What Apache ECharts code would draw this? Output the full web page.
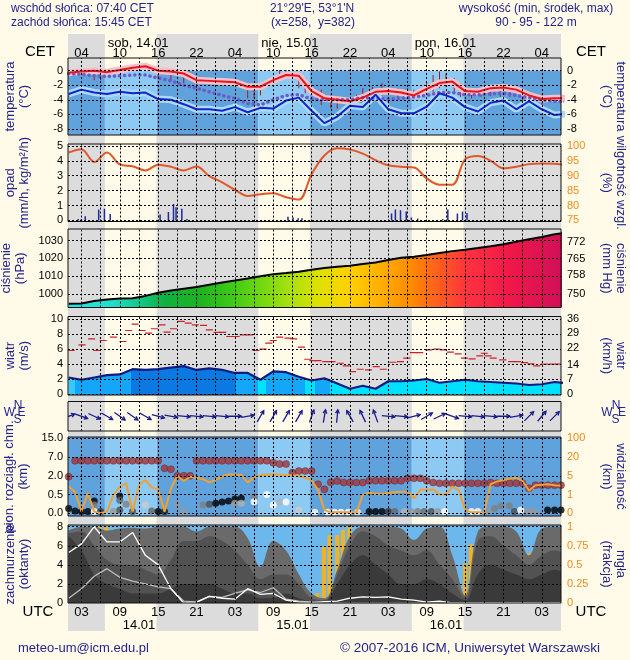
<!DOCTYPE html>
<html><head><meta charset="utf-8">
<script src="https://cdn.jsdelivr.net/npm/echarts@6/dist/echarts.min.js"></script>
<style>html,body{margin:0;padding:0;background:#fffbe8;}#c{width:630px;height:660px;}</style>
</head><body><div id="c"></div>
<script>
// ---------------- DATA ----------------
const SUNRISE_CET = '07:40', SUNSET_CET = '15:45', UTC_OFFSET = 1;
const X_MIN = 0.9, X_MAX = 78;            // hours since 14.01 00 UTC
const hourTicks = [3,9,15,21,27,33,39,45,51,57,63,69,75];
const topDates = ['sob, 14.01','nie, 15.01','pon, 16.01'];
const bottomDates = ['14.01','15.01','16.01'];
const bottomDateTicks = [9,33,57];

const times = [1,3,5,7,9,11,13,15,17,19,21,23,25,27,29,31,33,35,37,39,41,43,45,47,49,51,53,55,57,59,61,63,65,67,69,71,73,75,77,79];
const temp = [-0.3,-0.1,0.0,-0.2,0.1,0.4,0.6,0.0,-0.1,-0.4,-1.3,-1.4,-1.5,-1.6,-2.2,-2.2,-1.3,-0.6,-0.7,-2.8,-3.8,-4.0,-4.2,-3.7,-2.9,-2.8,-3.0,-3.4,-2.5,-1.7,-1.5,-2.8,-2.9,-2.4,-2.3,-2.6,-3.4,-3.9,-3.8,-3.8];
const tempBlue = [-3.2,-2.6,-3.0,-3.2,-2.9,-3.1,-3.0,-3.9,-4.0,-4.6,-5.3,-5.3,-5.5,-5.0,-5.7,-5.1,-5.2,-4.1,-3.7,-5.5,-7.2,-6.3,-4.8,-5.0,-3.3,-5.3,-5.85,-5.85,-4.95,-3.1,-3.7,-5.0,-5.6,-4.4,-4.1,-5.3,-4.2,-5.3,-6.1,-5.9];
const tempDotted = [-0.4,-0.5,-0.7,-0.8,-0.7,-0.6,-0.6,-1.0,-1.4,-2.0,-2.4,-2.9,-3.4,-3.8,-4.5,-4.7,-4.0,-3.4,-3.3,-3.9,-4.0,-4.0,-4.0,-3.7,-3.8,-3.9,-3.8,-3.6,-3.4,-3.0,-3.0,-3.3,-3.3,-3.2,-3.1,-3.4,-3.7,-4.0,-4.2,-4.3];
const whiskT  = [2,5,6,15,17,19,21,29,30,31,34,35,37,38,40.5,42,43,44.5,46,47,48.5,50,52.5,54,55,57,58,59,60,61.3,62.3,64,65.5,67,68.5,70,72,73.5,75];
const whiskLo = [-0.7,-1.3,-1.3,-0.9,-1.3,-1.7,-2.4,-3.8,-3.8,-3.4,-1.0,-0.7,-2.4,-3.1,-4.7,-5.2,-5.2,-5.4,-4.7,-4.3,-3.3,-2.9,-3.8,-3.8,-3.8,-3.3,-2.9,-2.4,-2.2,-2.9,-3.6,-3.8,-3.6,-3.5,-3.6,-3.6,-4.3,-4.7,-4.7];
const whiskHi = [-0.1,-0.4,-0.1,0.0,-0.2,-0.4,-1.0,-2.0,-2.0,-2.0,0.1,0.1,-0.6,-1.0,-2.6,-3.3,-3.6,-3.8,-3.3,-2.4,-2.2,-1.7,-2.4,-2.4,-2.6,-1.7,-0.6,-0.1,-0.4,-1.0,-1.7,-2.4,-2.4,-2.2,-2.2,-2.2,-3.0,-3.3,-3.3];

const precT = [2.5,3,3.6,5.7,6.6,7.5,15.3,16.6,17.4,17.8,18.7,19.5,35.3,36.1,36.9,37.5,51.5,52.1,52.9,53.8,54.6,55.6,59.5,60.3,61.8,62.6,63.3];
const precV = [0.1,0.1,0.29,0.73,0.78,0.44,0.4,0.56,1.11,0.89,0.78,0.1,0.25,0.2,0.15,0.15,0.47,0.73,0.69,0.6,0.2,0.13,0.1,0.73,0.47,0.6,0.5];
const humidity = [97.8,98.9,94.6,97.8,93.8,93.2,91.8,93.7,93.0,91.8,93.1,89.9,87.8,85.3,83.2,83.8,84.1,82.8,82.0,90.5,96.8,99.2,98.8,97.4,95.2,93.5,93.0,92.8,89.1,87.0,87.0,95.5,96.6,95.0,92.5,93.0,93.9,94.1,94.0,93.6];

const pressure = [994.6,994.7,996.2,997.0,997.5,997.7,999.0,1000.8,1002.0,1003.0,1004.0,1005.3,1006.5,1007.6,1008.8,1010.0,1011.2,1011.8,1012.6,1013.7,1014.6,1015.3,1015.9,1016.9,1017.7,1019.1,1020.4,1021.0,1021.9,1023.0,1024.1,1024.9,1025.8,1026.8,1027.9,1029.3,1030.7,1032.0,1033.6,1034.5];

const wind = [2.2,1.9,2.2,2.5,2.6,3.3,3.2,3.3,3.5,3.7,3.2,3.4,3.2,2.8,2.8,1.9,3.0,2.9,2.3,1.8,2.1,1.4,0.7,1.1,0.7,1.7,1.7,1.8,2.0,1.5,1.7,1.9,1.7,1.6,1.5,1.4,1.2,1.3,1.6,1.4];
const gustT = [1.4,3.1,4.6,5.4,6.4,8.0,9.5,10.4,11.4,12.5,13.5,14.4,15.6,16.4,17.4,18.6,19.7,20.8,22.1,23.0,24.2,25.1,26.2,27.2,28.3,29.3,30.3,31.4,32.3,33.0,34.0,35.3,36.2,37.4,38.4,39.2,40.0,41.2,42.2,43.5,44.4,45.4,46.6,47.9,49.1,50.2,51.7,52.9,53.9,54.9,55.9,57.3,58.6,59.6,60.7,61.9,62.9,64.1,65.3,66.0,66.6,67.4,68.9,70.3,71.2,72.3,73.3,74.2,75.4,76.6,77.6];
const gustV = [5.78,6.53,7.33,5.78,7.11,7.56,6.98,8.44,9.29,8.44,8.09,8.67,9.2,8.22,8.67,9.64,9.42,9.2,9.11,8.53,8.18,8.18,7.64,7.64,7.87,7.87,5.78,5.96,6.76,7.11,7.56,7.42,7.33,6.22,4.62,4.44,4.44,4.31,4.31,4.09,3.73,2.98,3.29,3.2,3.64,3.29,4.22,4.31,4.76,5.51,5.51,5.87,5.96,5.87,5.56,5.33,4.76,4.67,5.07,5.42,5.07,4.76,4.53,4.31,4.31,4.18,4.0,3.73,3.96,3.96,3.96];
const windTo = [70,110,115,120,125,125,120,105,100,95,95,95,95,90,80,30,30,30,30,20,10,5,330,335,340,95,95,75,60,65,110,95,95,95,90,80,45,40,45,40];

const visibility = [2.7,1.6,0.09,1.3,0.09,0.0,0.09,0.98,2.7,3.4,0.09,3.0,4.1,2.5,2.1,0.09,2.3,5.0,3.9,4.8,4.6,4.3,3.6,4.2,4.8,6.2,5.9,5.6,3.6,4.6,5.6,5.9,6.2,5.9,5.6,5.4,5.0,4.6,4.0,2.0,0.18,0.05,0.05,0.05,0.05,0.05,0.98,1.4,1.2,1.1,1.3,1.5,1.6,1.6,0.8,2.0,2.0,2.1,1.0,1.0,2.7,2.0,0.18,0.05,0.05,0.05,3.2,3.8,4.1,4.4,4.6,3.9,1.8,3.0,3.1,3.2,3.0,2.9];
const cloudTop = [1.93,6,6,6,6,6,6,6,6,6,6,6,6,6,6,4.0,3.75,2,2,2,6,6,6,6,6,6,6,6,6,6,6,6,5.5,5.15,5.15,2.85,3.25,3.25,3.25,1.33,0.92,1.48,1.58,1.46,1.46,1.46,1.46,1.6,1.6,1.6,1.6,1.6,1.6,1.8,1.8,1.8,1.6,1.46,1.4,1.4,1.4,1.4,1.4,1.4,1.4,1.4,1.46,1.4,1.4,1.4,1.4,1.4,1.0,1.25,1.25,1.25,1.25,1.25];
const cbT = [1,2,3,4,5,5,5,6,8,9,9,9,10,11,13,14,15,16,18,19,22,23,24,25,26,27,28,27,28,30,30,32,33,34,35,37,39.5,41.5,42.6,43.6,44.7,46.2,48,49,50,51,52,53.5,54.6,55.6,56.6,57.7,58.7,59.8,64,65,66.5,67.6,68.6,69.9,70.7,71.7,72.8,73.8,75.9,77,78];
const cbV = [0.13,0.06,0.05,0.05,0.33,0.22,0.05,0.05,0.05,0.46,0.35,0.09,0.24,0.05,0.22,0.06,0.05,0.05,0.22,0.03,0.22,0.24,0.27,0.3,0.33,0.38,0.4,0.27,0.27,0.44,0.31,0.51,0.22,0.3,0.3,0.09,0.03,0.03,0.03,0.03,0.03,0.03,0.05,0.05,0.05,0.05,0.05,0.05,0.05,0.05,0.05,0.05,0.05,0.05,0.05,0.05,0.05,0.13,0.2,0.2,0.05,0.09,0.05,0.05,0.09,0.09,0.09];
const cbShade = [0,0,0,0,0,0.5,1,0.2,0.6,0,0.4,0.3,0.5,0.3,0.8,0.4,0,0.1,0.6,0.6,0.5,0.3,0,0,0,0,0,0.6,0.7,0.5,1,1,1,0.7,1,0.8,1,1,1,1,1,0.9,0,0,0,0.2,0.4,0.7,0.6,0.5,0.4,0.3,0.6,1,1,1,0.6,0.5,0.5,0.5,0.3,1,0.6,0.6,0,0,0];

const cloudAll = [7.6,8.0,8.0,7.6,7.8,7.9,7.8,8.0,8.0,8.0,7.5,8.0,8.0,8.0,6.8,3.8,6.5,5.5,3.0,1.0,0.5,3.5,7.0,8.0,8.0,8.0,7.8,6.6,7.8,8.0,5.0,0.8,7.5,8.0,8.0,7.5,5.0,7.8,8.0,8.0];
const cloudMid = [7.3,7.5,6,4.5,4,4,3.5,3,4.5,6.5,6.5,7,6.5,5.5,4,2.5,3,3,2,0.5,0.3,3,6,7.5,7,6,5.5,5,5.5,4,2.5,0.5,6.5,7,6,5,4,5,5.5,5];
const cloudLow = [7,5.5,3,2,1.5,1,1,1,1.5,2,2,2,1.5,1,1,0.5,0.5,1,0.5,0.2,0.2,2,4,5,4,3,2,2,2.5,2,1,0.3,3,4,3.5,3,2.5,3,3.5,3];
const whiteLine1 = [5.3,6.2,8.0,6.4,6.4,7.4,5.0,4.0,1.5,0.0,0.1,0.7,0.5,0.4,1.5,0.9,1.0,0.3,0.1,0.05,0.15,0.2,0.5,0.65,0.6,0.65,0.4,0.3,0.1,0.2,0,0,0,0,0,0,0,0,0,0];
const whiteLine2 = [0.5,1.5,2.8,3.6,2.7,2.3,2.0,1.7,1.5,0.2,0.1,0.7,0.6,1.0,1.4,1.1,1.6,0.4,0.2,0.1,0,0,0,0,0,0,0,0,0,0,0,0,0,0,0,0,0,0,0,0];
const fogT = [2,3,4,5.9,6.9,7.9,11,12,15,16,16.9,39.9,40.9,41.8,43,43.9,44.9,46,47,48,48.9,50.1,53.9,55,63,63.9,65,66,67,68,72,73];
const fogV = [0.65,0.76,0.51,1.0,1.0,0.15,0.76,0.15,0.38,0.51,1.0,0.13,0.74,0.89,0.89,0.96,1.0,0.89,0.76,0.65,0.39,0.14,0.14,0.26,0.52,0.77,0.77,0.89,0.52,0.26,0.26,0.65];

const leftKm = [0,0.5,2,7,15], rightKm = [0,1,5,20,100];

// ---------------- HELPERS ----------------
const FONT = "'Liberation Sans', Arial, sans-serif";
const NAVY = '#24248c';
const pad = n => String(n).padStart(2,'0');
const pair = (xs, ys) => xs.map((x,i)=>[x, ys[i]]);
function hm(s){const [h,m]=s.split(':').map(Number);return h+m/60;}
const rise = hm(SUNRISE_CET)-UTC_OFFSET, set = hm(SUNSET_CET)-UTC_OFFSET;
const days = [0,1,2].map(d=>[rise+24*d, set+24*d]);
const nights = [[X_MIN,days[0][0]],[days[0][1],days[1][0]],[days[1][1],days[2][0]],[days[2][1],X_MAX]];
function toIdx(v, stops){ for(let i=1;i<stops.length;i++){ if(v<=stops[i]) return i-1+(v-stops[i-1])/(stops[i]-stops[i-1]); } return stops.length-1; }
const vertLines = []; for(let h=3; h<X_MAX; h+=3) vertLines.push(h);

const gridDefs = [[34,597],[58,77],[144,77.5],[229,78.5],[316.5,78.5],[401.5,29.5],[437,79],[525,78]];
const grid = gridDefs.map(([top,height],i)=>({left:68,right:69,top,height,show:i>0,borderColor:'#111',borderWidth:1,backgroundColor:'transparent',z:10,containLabel:false,outerBoundsMode:'none'}));

const xAxis = gridDefs.map((g,i)=>({type:'value',gridIndex:i,min:X_MIN,max:X_MAX,show:false}));
const hiddenParts = {axisLine:{show:false},axisTick:{show:false},splitLine:{show:false},z:20};
xAxis[1] = Object.assign({type:'value',gridIndex:1,min:X_MIN,max:X_MAX,position:'top'},hiddenParts,{axisLabel:{customValues:hourTicks,formatter:v=>pad((v+UTC_OFFSET)%24),fontSize:13,color:'#000',margin:-1.5,fontFamily:FONT}});
xAxis[7] = Object.assign({type:'value',gridIndex:7,min:X_MIN,max:X_MAX,position:'bottom'},hiddenParts,{axisLabel:{customValues:hourTicks,formatter:v=>pad(v%24),fontSize:13,color:'#000',margin:3,fontFamily:FONT}});
const dayStarts = days.map(d=>d[0]);
xAxis.push(Object.assign({type:'value',gridIndex:1,min:X_MIN,max:X_MAX,position:'top',offset:10},hiddenParts,{axisLabel:{customValues:dayStarts,formatter:v=>topDates[dayStarts.indexOf(v)],align:'left',padding:[0,0,0,3],fontSize:13,color:'#000',margin:-1.5,fontFamily:FONT}}));
xAxis.push(Object.assign({type:'value',gridIndex:7,min:X_MIN,max:X_MAX,position:'bottom',offset:13},hiddenParts,{axisLabel:{customValues:bottomDateTicks,formatter:v=>bottomDates[bottomDateTicks.indexOf(v)],align:'left',padding:[0,0,0,3],fontSize:13,color:'#000',margin:3,fontFamily:FONT}}));

const nameStyle = {color:NAVY,fontSize:13,lineHeight:14,fontFamily:FONT};
function yPair(gi, L, R){
  const mk = (o, side) => Object.assign({type:'value',gridIndex:gi,position:side,min:o.min,max:o.max},hiddenParts,{
    axisLabel: o.vals ? {customValues:o.vals,formatter:o.fmt||(v=>String(v)),color:o.color||'#000',fontSize:11,margin:side==='left'?5:6,fontFamily:FONT} : {show:false},
    name:o.name||'', nameLocation:'middle', nameGap: side==='left'?37:39, nameRotate: side==='left'?90:-90, nameTextStyle:nameStyle});
  return [mk(L,'left'), mk(R,'right')];
}
const ORANGE = '#f08a1c';
const P1 = [-8.83,1.74], P2=[-0.07,5.13], P3=[992.5,1036.5], P4=[-0.13,10.3], P6=[-0.144,4.07], P7=[0,8.18];
const yAxis = [{type:'value',gridIndex:0,min:0,max:1,show:false}].concat(
  yPair(1,{min:P1[0],max:P1[1],vals:[-8,-6,-4,-2,0],name:'temperatura\n(°C)'},{min:P1[0],max:P1[1],vals:[-8,-6,-4,-2,0],name:'temperatura\n(°C)'}),
  yPair(2,{min:P2[0],max:P2[1],vals:[0,1,2,3,4,5],name:'opad\n(mm/h, kg/m²/h)'},{min:75+5*P2[0],max:75+5*P2[1],vals:[75,80,85,90,95,100],color:ORANGE,name:'wilgotność wzgl.\n(%)'}),
  yPair(3,{min:P3[0],max:P3[1],vals:[1000,1010,1020,1030],name:'ciśnienie\n(hPa)'},{min:P3[0]/1.33322,max:P3[1]/1.33322,vals:[750,758,765,772],name:'ciśnienie\n(mm Hg)'}),
  yPair(4,{min:P4[0],max:P4[1],vals:[0,2,4,6,8,10],name:'wiatr\n(m/s)'},{min:P4[0]*3.6,max:P4[1]*3.6,vals:[0,7,14,22,29,36],name:'wiatr\n(km/h)'}),
  yPair(5,{min:0,max:1},{min:0,max:1}),
  yPair(6,{min:P6[0],max:P6[1],vals:[0,1,2,3,4],fmt:v=>leftKm[v].toFixed(1),name:'pion. rozciągł. chm.\n(km)'},{min:P6[0],max:P6[1],vals:[0,1,2,3,4],fmt:v=>String(rightKm[v]),color:ORANGE,name:'widzialność\n(km)'}),
  yPair(7,{min:P7[0],max:P7[1],vals:[0,2,4,6,8],name:'zachmurzenie\n(oktanty)'},{min:0,max:P7[1]/8,vals:[0,0.25,0.5,0.75,1],color:ORANGE,name:'mgła\n(frakcja)'})
);
const LY = p => 2*p-1, RY = p => 2*p;

const series = [];
const areaPairs = (list, y0, y1, color) => list.map(([a,b])=>[Object.assign({xAxis:a,itemStyle:{color}}, y0!==undefined?{yAxis:y0}:{}), Object.assign({xAxis:b}, y1!==undefined?{yAxis:y1}:{})]);
function bgSeries(p, data){ series.push({type:'line',xAxisIndex:p,yAxisIndex:p===0?0:LY(p),data:[],silent:true,markArea:{silent:true,data}}); }
function gridLines(p, hs){
  series.push({type:'line',xAxisIndex:p,yAxisIndex:LY(p),data:[],silent:true,
    markLine:{silent:true,symbol:['none','none'],label:{show:false},lineStyle:{color:'#000',type:[2,2],width:1},
      data: vertLines.map(x=>({xAxis:x})).concat(hs.map(y=>({yAxis:y})))}});
}
const line = (p, yi, data, style, extra) => Object.assign({type:'line',xAxisIndex:p,yAxisIndex:yi,data,symbol:'none',lineStyle:style,silent:true},extra||{});

// background day/night
bgSeries(0, areaPairs(nights, undefined, undefined, '#dcdcdc'));

// Panel 1 temperature
bgSeries(1, areaPairs(nights, P1[0], 0, '#60a2dc').concat(areaPairs(days, P1[0], 0, '#8ccaf3')));
series.push(line(1, LY(1), pair(times,temp), {color:'#f6c0ca',width:7}));
series.push(line(1, LY(1), pair(times,tempBlue), {color:'#a8dafb',width:7}));
series.push({type:'custom',xAxisIndex:1,yAxisIndex:LY(1),silent:true,clip:true,
  data: whiskT.map((t,i)=>[t,whiskLo[i],whiskHi[i]]), encode:{x:0,y:[1,2]},
  renderItem:(params,api)=>{const a=api.coord([api.value(0),api.value(1)]),b=api.coord([api.value(0),api.value(2)]);
    return {type:'line',shape:{x1:a[0],y1:a[1],x2:b[0],y2:b[1]},style:{stroke:'#a41c1c',lineWidth:1}};}});
series.push(line(1, LY(1), pair(times,tempDotted), {color:'#6a5cc8',width:3.5,type:[0.1,5],cap:'round'}));
series.push(line(1, LY(1), pair(times,tempBlue), {color:'#1424c8',width:2}));
series.push(line(1, LY(1), pair(times,temp), {color:'#e8141c',width:2}));
gridLines(1, [-8,-6,-4,-2,0]);

// Panel 2 precipitation / humidity
series.push({type:'custom',xAxisIndex:2,yAxisIndex:LY(2),silent:true,clip:true,
  data: pair(precT,precV), encode:{x:0,y:1},
  renderItem:(params,api)=>{const a=api.coord([api.value(0),0]),b=api.coord([api.value(0),api.value(1)]);
    return {type:'rect',shape:{x:a[0]-0.75,y:b[1],width:1.5,height:a[1]-b[1]},style:{fill:'#1c2a9c'}};}});
series.push(line(2, RY(2), pair(times,humidity), {color:'#e0572a',width:2}, {smooth:0.35}));
gridLines(2, [0,1,2,3,4,5]);

// Panel 3 pressure
const presStops = [[0,'#22e6e6'],[0.085,'#22e0d0'],[0.146,'#14c88a'],[0.197,'#10b040'],[0.268,'#1eb41e'],[0.329,'#3cc818'],[0.389,'#6ed810'],[0.45,'#a8e010'],[0.511,'#e0e000'],[0.572,'#ffd000'],[0.633,'#ffb000'],[0.694,'#ff8c00'],[0.755,'#ff5a20'],[0.815,'#ff3040'],[0.897,'#f01848'],[1,'#d0105a']];
series.push(line(3, LY(3), pair(times,pressure), {color:'#000',width:2},
  {areaStyle:{opacity:1,origin:'start',color:new echarts.graphic.LinearGradient(68,0,561,0,presStops.map(([o,c])=>({offset:o,color:c})),true)}}));
gridLines(3, [1000,1010,1020,1030]);

// Panel 4 wind
const windAreaIndex = series.length;
series.push(line(4, LY(4), pair(times,wind), {width:0}, {areaStyle:{opacity:1,origin:'start'}}));
series.push(line(4, LY(4), pair(times,wind), {color:'#101c84',width:2.2}));
series.push({type:'custom',xAxisIndex:4,yAxisIndex:LY(4),silent:true,clip:true,
  data: pair(gustT,gustV), encode:{x:0,y:1},
  renderItem:(params,api)=>{const a=api.coord([api.value(0)-0.55,api.value(1)]),b=api.coord([api.value(0)+0.55,api.value(1)]);
    return {type:'line',shape:{x1:a[0],y1:a[1],x2:b[0],y2:b[1]},style:{stroke:'#d0202a',lineWidth:1.2}};}});
gridLines(4, [0,2,4,6,8,10]);

// Panel 5 wind direction
series.push({type:'custom',xAxisIndex:5,yAxisIndex:LY(5),silent:true,clip:true,
  data: pair(times,windTo), encode:{x:0},
  renderItem:(params,api)=>{
    const b=api.value(1)*Math.PI/180, c=api.coord([api.value(0),0.5]), len=13;
    const ux=Math.sin(b), uy=-Math.cos(b);
    const x1=c[0]-ux*len/2, y1=c[1]-uy*len/2, x2=c[0]+ux*len/2, y2=c[1]+uy*len/2;
    const h=4, ang=0.5;
    const bx=-ux, by=-uy;
    const r1x=bx*Math.cos(ang)-by*Math.sin(ang), r1y=bx*Math.sin(ang)+by*Math.cos(ang);
    const r2x=bx*Math.cos(-ang)-by*Math.sin(-ang), r2y=bx*Math.sin(-ang)+by*Math.cos(-ang);
    return {type:'group',children:[
      {type:'line',shape:{x1,y1,x2,y2},style:{stroke:'#1a1a90',lineWidth:1.3}},
      {type:'polyline',shape:{points:[[x2+r1x*h,y2+r1y*h],[x2,y2],[x2+r2x*h,y2+r2y*h]]},style:{stroke:'#1a1a90',lineWidth:1.3,fill:null}}]};
  }});
gridLines(5, []);

// Panel 6 cloud extent / visibility
bgSeries(6, areaPairs(nights, P6[0], P6[1], '#60a2dc').concat(areaPairs(days, P6[0], P6[1], '#8ccaf3')));
series.push(line(6, LY(6), visibility.map((v,i)=>[i+1,toIdx(v,rightKm)]), {color:'#f2a032',width:2}));
series.push({type:'scatter',xAxisIndex:6,yAxisIndex:LY(6),silent:true,symbolSize:7,
  data: cloudTop.map((v,i)=>[i+1,toIdx(v,leftKm)]), itemStyle:{color:'#a4343a',borderColor:'#6a1a1a',borderWidth:0.5}});
series.push({type:'scatter',xAxisIndex:6,yAxisIndex:LY(6),silent:true,symbolSize:7,
  data: cbT.map((t,i)=>{const g=Math.round(cbShade[i]*255);return {value:[t,toIdx(cbV[i],leftKm)],itemStyle:{color:`rgb(${g},${g},${g})`}};})});
gridLines(6, [0,1,2,3,4]);

// Panel 7 cloud cover / fog
bgSeries(7, areaPairs([[X_MIN,X_MAX]], P7[0], P7[1], '#6cb8ec'));
series.push(line(7, LY(7), pair(times,cloudAll), {width:0}, {smooth:0.4,areaStyle:{color:'#6a6a6a',opacity:1,origin:'start'}}));
series.push(line(7, LY(7), pair(times,cloudMid), {width:0}, {smooth:0.4,areaStyle:{color:'#525252',opacity:1,origin:'start'}}));
series.push(line(7, LY(7), pair(times,cloudLow), {width:0}, {smooth:0.4,areaStyle:{color:'#3a3a3a',opacity:1,origin:'start'}}));
series.push({type:'custom',xAxisIndex:7,yAxisIndex:RY(7),silent:true,clip:true,
  data: pair(fogT,fogV), encode:{x:0,y:1},
  renderItem:(params,api)=>{const a=api.coord([api.value(0),0]),b=api.coord([api.value(0),api.value(1)]);
    return {type:'rect',shape:{x:a[0]-2,y:b[1],width:4,height:a[1]-b[1]},style:{fill:'#f5b21e'}};}});
series.push(line(7, LY(7), pair(times,whiteLine2), {color:'#bdbdbd',width:1.3}));
series.push(line(7, LY(7), pair(times,whiteLine1), {color:'#ffffff',width:1.3}));
gridLines(7, [2,4,6,8]);

const windBands = [[X_MIN-1,2,'#34caff'],[2,10.8,'#14a6f8'],[10.8,27.2,'#0c78e2'],[27.2,30.6,'#14a6f8'],[30.6,31.8,'#00e0ff'],[31.8,37.9,'#14a6f8'],[37.9,39.5,'#00e0ff'],[39.5,41.8,'#14a6f8'],[41.8,X_MAX+5,'#00e0ff']];

const txt = (x,y,text,align,size,color) => ({type:'text',x,y,silent:true,style:{text,fill:color||NAVY,font:`${size||12}px ${FONT}`,align:align||'left',textAlign:align||'left',verticalAlign:'middle',textVerticalAlign:'middle'}});
const graphic = [
  txt(11,9,'wschód słońca: 07:40 CET'), txt(11,23,'zachód słońca: 15:45 CET'),
  txt(312,9,"21°29'E, 53°1'N",'center'), txt(313,23,'(x=258,  y=382)','center'),
  txt(536,9,'wysokość (min, środek, max)','center'), txt(536,23,'90 - 95 - 122 m','center'),
  txt(40,52,'CET','center',15,'#000'), txt(591,52,'CET','center',15,'#000'),
  txt(38,612,'UTC','center',15,'#000'), txt(591,612,'UTC','center',15,'#000'),
  txt(18,648,'meteo-um@icm.edu.pl','left',13), txt(470,648,'© 2007-2016 ICM, Uniwersytet Warszawski','center',13.5),
  txt(9.5,412.5,'W','center',12), txt(18,405.5,'N','center',12), txt(21.5,412.5,'E','center',12), txt(17.5,419.5,'S','center',12),
  txt(607,412.5,'W','center',12), txt(616,405.5,'N','center',12), txt(622,412.5,'E','center',12), txt(615.5,419.5,'S','center',12)
];

const chart = echarts.init(document.getElementById('c'));
chart.setOption({
  backgroundColor:'#fffbe8', animation:false,
  textStyle:{fontFamily:FONT},
  grid, xAxis, yAxis, series, graphic,
  visualMap:[{type:'piecewise',show:false,seriesIndex:windAreaIndex,dimension:0,
    pieces: windBands.map(([a,b,c])=>({gte:a,lt:b,color:c}))}]
});
</script></body></html>
